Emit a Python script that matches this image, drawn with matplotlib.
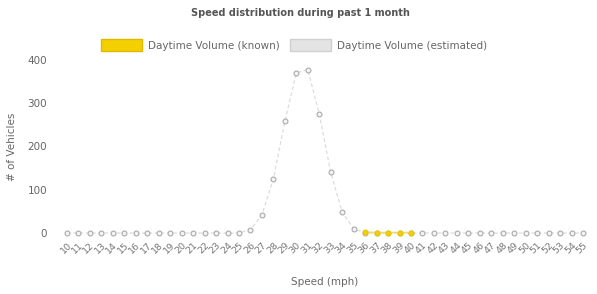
import numpy as np
import matplotlib
matplotlib.use("Agg")
import matplotlib.pyplot as plt
from matplotlib.patches import Patch

speeds = list(range(10, 56))
estimated = [0]*16 + [8, 42, 125, 258, 370, 378, 275, 140, 48, 10] + [0]*20
known_speeds = [36, 37, 38, 39, 40]
known = [2, 1, 1, 1, 1]

fig = plt.figure(figsize=(5.97, 2.94), dpi=100)
ax = fig.add_axes([57/597, 1-236/294, (593-57)/597, (236-58)/294])

x = np.arange(len(speeds))
ax.plot(x, estimated, color="#dddddd", lw=0.9, ls=(0, (3, 2)),
        marker="o", ms=3.5, mfc="#f4f4f4", mec="#aaaaaa", mew=0.8, zorder=2)
kx = [speeds.index(s) for s in known_speeds]
ax.plot(kx, known, color="#f5d76e", lw=1.2, marker="o", ms=3.5,
        mfc="#f5d000", mec="#e8c800", mew=0.8, zorder=3)

pix = 11.467
ax.set_xlim(-10/pix, 45 + 10/pix)
ax.set_ylim(-3/0.4325, 400 + 2/0.4325)
ax.set_xticks(x)
ax.set_xticklabels([str(s) for s in speeds], rotation=45, ha="right",
                   rotation_mode="anchor", fontsize=6.8, color="#777777")
ax.set_yticks([0, 100, 200, 300, 400])
ax.tick_params(axis="y", labelsize=7.5, colors="#666666", length=0, pad=7)
ax.tick_params(axis="x", length=0, pad=3)
for s in ax.spines.values():
    s.set_visible(False)

ax.set_xlabel("Speed (mph)", fontsize=7.5, color="#666666", labelpad=16)
ax.set_ylabel("# of Vehicles", fontsize=7.5, color="#666666", labelpad=8)

fig.text(300/597, 1-13/294, "Speed distribution during past 1 month", ha="center",
         va="center", fontsize=7.0, color="#555555", fontweight="bold")

handles = [Patch(facecolor="#f5d000", edgecolor="#e0b800", lw=1),
           Patch(facecolor="#e4e4e4", edgecolor="#d0d0d0", lw=1)]
fig.legend(handles, ["Daytime Volume (known)", "Daytime Volume (estimated)"],
           loc="center", bbox_to_anchor=(294/597, 1-45/294), ncol=2, frameon=False,
           fontsize=7.5, labelcolor="#666666", handlelength=3.95, handleheight=1.25,
           handletextpad=0.5, columnspacing=1.05)

fig.savefig("out.png", dpi=100)
